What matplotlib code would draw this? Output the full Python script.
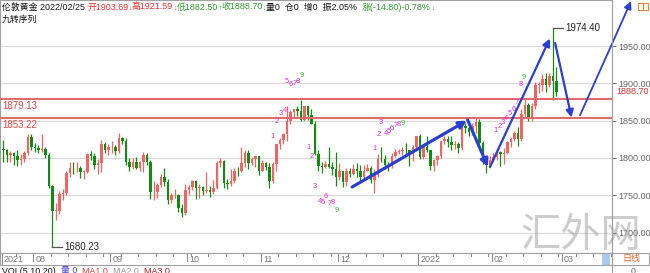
import matplotlib
matplotlib.use("Agg")
import matplotlib.pyplot as plt
import matplotlib.transforms as mtransforms
from matplotlib.patches import Rectangle
from matplotlib.lines import Line2D
import numpy as np
import pandas as pd

# ---------------- data ----------------
dates = pd.bdate_range("2021-07-20", "2022-02-25")

opens = [
    # Jul
    1812, 1811, 1804, 1806, 1802, 1797, 1799, 1806, 1828,
    # Aug
    1814, 1813, 1810, 1812, 1804, 1763, 1729, 1729, 1752, 1753, 1780, 1787, 1786, 1787, 1781, 1781, 1805, 1803, 1790, 1793, 1818, 1810,
    # Sep
    1814, 1814, 1809, 1827, 1823, 1794, 1788, 1794, 1787, 1794, 1804, 1794, 1754, 1754, 1764, 1774, 1768, 1743, 1750, 1750, 1733, 1726,
    # Oct
    1757, 1761, 1769, 1760, 1761, 1756, 1757, 1754, 1760, 1793, 1796, 1767, 1765, 1769, 1783, 1782, 1793, 1807, 1793, 1798, 1802,
    # Nov
    1783, 1793, 1788, 1769, 1792, 1818, 1824, 1832, 1849, 1862, 1865, 1863, 1851, 1869, 1858, 1846, 1805, 1789, 1788, 1792, 1788, 1785,
    # Dec
    1774, 1782, 1768, 1783, 1779, 1785, 1783, 1775, 1783, 1787, 1771, 1777, 1799, 1798, 1791, 1789, 1803, 1808, 1809, 1811, 1810, 1805, 1815,
    # Jan
    1829, 1801, 1814, 1810, 1789, 1797, 1802, 1822, 1826, 1821, 1817, 1819, 1813, 1843, 1840, 1835, 1843, 1848, 1820, 1797, 1791,
    # Feb
    1797, 1801, 1808, 1805, 1807, 1821, 1826, 1833, 1826, 1859, 1871, 1855, 1870, 1898, 1898, 1906, 1898, 1910, 1903.69,
]
highs = [
    1824, 1812, 1809, 1808, 1810, 1805, 1809, 1832, 1832,
    1820, 1817, 1832, 1815, 1806, 1764, 1740, 1755, 1758, 1782, 1795, 1794, 1795, 1789, 1784, 1806, 1809, 1806, 1798, 1824, 1821, 1819,
    1822, 1817, 1834, 1828, 1827, 1800, 1800, 1801, 1796, 1808, 1806, 1797, 1769, 1767, 1778, 1787, 1772, 1753, 1758, 1752, 1738, 1765,
    1764, 1770, 1770, 1765, 1763, 1781, 1762, 1770, 1796, 1800, 1797, 1772, 1785, 1786, 1788, 1814, 1810, 1810, 1801, 1803, 1802,
    1797, 1795, 1793, 1795, 1818, 1827, 1834, 1869, 1864, 1866, 1870, 1877, 1870, 1870, 1866, 1849, 1810, 1795, 1796, 1815, 1795, 1808,
    1793, 1783, 1786, 1786, 1792, 1793, 1790, 1791, 1792, 1789, 1785, 1805, 1815, 1804, 1795, 1806, 1812, 1812, 1814, 1820, 1811, 1817, 1830,
    1832, 1815, 1830, 1811, 1799, 1804, 1823, 1829, 1829, 1830, 1822, 1821, 1845, 1847, 1848, 1847, 1853, 1852, 1822, 1801, 1802,
    1807, 1812, 1809, 1813, 1822, 1828, 1836, 1842, 1865, 1879, 1873, 1873, 1902, 1902, 1913, 1914, 1914, 1974.40, 1921.59,
]
lows = [
    1795, 1795, 1794, 1791, 1789, 1790, 1795, 1804, 1810,
    1808, 1806, 1808, 1800, 1759, 1680.23, 1717, 1725, 1744, 1750, 1775, 1778, 1781, 1773, 1772, 1780, 1797, 1785, 1779, 1781, 1807, 1804,
    1807, 1804, 1806, 1818, 1790, 1782, 1785, 1785, 1782, 1781, 1790, 1745, 1743, 1746, 1761, 1763, 1738, 1740, 1746, 1727, 1721, 1723,
    1750, 1757, 1745, 1746, 1750, 1753, 1747, 1752, 1758, 1788, 1760, 1758, 1763, 1767, 1776, 1781, 1788, 1785, 1790, 1788, 1777,
    1782, 1784, 1759, 1767, 1782, 1812, 1818, 1823, 1846, 1855, 1856, 1850, 1849, 1851, 1845, 1804, 1782, 1780, 1786, 1786, 1777, 1763,
    1771, 1761, 1763, 1775, 1777, 1775, 1771, 1771, 1783, 1766, 1753, 1775, 1795, 1785, 1782, 1787, 1801, 1805, 1804, 1805, 1789, 1796, 1812,
    1798, 1799, 1808, 1784, 1782, 1790, 1800, 1818, 1814, 1811, 1812, 1806, 1811, 1834, 1830, 1831, 1834, 1816, 1792, 1780, 1786,
    1794, 1797, 1789, 1792, 1805, 1815, 1823, 1816, 1822, 1855, 1849, 1850, 1866, 1887, 1890, 1889, 1895, 1878, 1882.50,
]
closes = [
    1811, 1804, 1806, 1802, 1797, 1799, 1806, 1828, 1814,
    1813, 1810, 1812, 1804, 1763, 1729, 1729, 1752, 1753, 1780, 1787, 1786, 1787, 1781, 1781, 1805, 1803, 1790, 1793, 1818, 1810, 1814,
    1814, 1809, 1827, 1823, 1794, 1788, 1794, 1787, 1794, 1804, 1794, 1754, 1754, 1764, 1774, 1768, 1743, 1750, 1750, 1733, 1726, 1757,
    1761, 1769, 1760, 1761, 1756, 1757, 1754, 1760, 1793, 1796, 1767, 1765, 1769, 1783, 1782, 1793, 1807, 1793, 1798, 1802, 1783,
    1793, 1788, 1769, 1792, 1818, 1824, 1832, 1849, 1862, 1865, 1863, 1851, 1869, 1858, 1846, 1805, 1789, 1788, 1792, 1788, 1785, 1774,
    1782, 1768, 1783, 1779, 1785, 1783, 1775, 1783, 1787, 1771, 1777, 1799, 1798, 1791, 1789, 1803, 1808, 1809, 1811, 1810, 1805, 1815, 1829,
    1801, 1814, 1810, 1789, 1797, 1802, 1822, 1826, 1821, 1817, 1819, 1813, 1843, 1840, 1835, 1843, 1848, 1820, 1797, 1791, 1797,
    1801, 1808, 1805, 1807, 1821, 1826, 1833, 1826, 1859, 1871, 1855, 1870, 1898, 1898, 1906, 1898, 1910, 1903, 1888.70,
]
assert len(opens) == len(highs) == len(lows) == len(closes) == len(dates)

support_levels = [1879.13, 1853.22]
last_close = 1888.70
y_ticks = [1700, 1750, 1800, 1850, 1900, 1950]

month_labels = ["2021", "08", "09", "10", "11", "12", "2022", "02", "03"]
month_starts = ["2021-07-20", "2021-08-02", "2021-09-01", "2021-10-01", "2021-11-01",
                "2021-12-01", "2022-01-03", "2022-02-01", "2022-03-01"]

# TD sequential (九转序列) counts: bar position, price, label
td_pos = [77, 78.1, 79.3, 80.4, 81, 82.1, 83.3, 84.1, 85.3,
          87.1, 88.2, 89, 90.4, 91.3, 92, 93.1, 94, 95.2,
          106.1, 107.1, 107.9, 109.3, 110.1, 111, 112, 112.8, 114,
          140.7, 141.7, 142.7, 143.7, 144.7, 145.7, 146.7, 147.9, 148.7]
td_price = [1829, 1849, 1860, 1863, 1903, 1899, 1900, 1903, 1911,
            1814, 1802, 1762, 1742, 1740, 1748, 1739, 1740, 1729,
            1812, 1832, 1847, 1833, 1836, 1839, 1844, 1845, 1846,
            1837, 1842, 1848, 1853, 1859, 1865, 1874, 1898, 1908]
td_label = ["1", "2", "3", "4", "5", "6", "7", "8", "9"] * 4

# hand-drawn wave arrows: (start bar, start price) -> (end bar, end price)
arrow_start = [(99.6, 1761), (132.6, 1851), (139.0, 1788), (157.6, 1954), (164.7, 1857)]
arrow_end = [(132.4, 1850), (138.4, 1788), (156.1, 1960), (162.3, 1854), (179.3, 2010)]
arrow_width = [2.3, 2.2, 1.6, 1.6, 1.3]

header = [("伦敦黄金 2022/02/25 ", "#111111", 6.4),
          ("开1903.69", "#f03030", 6.4), ("↓", "#f03030", 4.8),
          ("高1921.59", "#f03030", 6.4), ("↓", "#f03030", 4.8),
          ("低1882.50", "#2e9e2e", 6.4), ("↑", "#2e9e2e", 4.8),
          ("收1888.70", "#2e9e2e", 6.4), ("↓", "#2e9e2e", 4.8),
          ("量0  仓0  增0  振2.05%  ", "#111111", 6.4),
          ("涨(-14.80)-0.78%", "#2e9e2e", 6.4), ("↓", "#2e9e2e", 4.8)]
vol_line = [("VOL(5,10,20)  ", "#111111", 6.4), ("量 0  ", "#4a4ad0", 6.4),
            ("MA1 0  ", "#e04040", 6.4), ("MA2 0  ", "#999999", 6.4), ("MA3 0", "#a02020", 6.4)]

# ---------------- layout ----------------
W, H = 650, 273
FAM = ["Liberation Sans", "Noto Sans CJK SC"]
fig = plt.figure(figsize=(6.5, 2.73), dpi=100)
fig.patch.set_facecolor("white")


def fx(px):
    return px / W


def fy(py):
    return 1 - py / H


PRICE_BOT = 253
AX_RIGHT = 612
ax = fig.add_axes([0, fy(PRICE_BOT), fx(AX_RIGHT), PRICE_BOT / H])
ax.set_facecolor("white")
ax.set_xlim(-1, (AX_RIGHT - 3.5) / 3.5)
ax.set_ylim(1900 - (PRICE_BOT - 83.3) / 0.746, 1900 + 83.3 / 0.746)

for s in ax.spines.values():
    s.set_color("#a0a0a0")
    s.set_linewidth(0.8)

ax.set_xticks([])
ax.yaxis.tick_right()
ax.set_yticks(y_ticks)
ax.set_yticklabels([f"{v:.2f}" for v in y_ticks], family=FAM)
ax.tick_params(axis="y", labelsize=6.5, colors="#666666", length=3, pad=1.2, width=0.7)
ax.grid(axis="y", color="#dadada", linewidth=0.9)
ax.set_axisbelow(True)

# candles
x = np.arange(len(closes))
o = np.array(opens, float)
h = np.array(highs, float)
l = np.array(lows, float)
c = np.array(closes, float)
up = c >= o
col = np.where(up, "#f06464", "#138a13")
ax.vlines(x, l, h, colors=col, linewidth=0.9, zorder=3)
body = np.maximum(np.abs(c - o), 0.8)
ax.bar(x, body, bottom=np.minimum(o, c), width=0.7, color=col, linewidth=0, zorder=4)

# support lines
blend = mtransforms.blended_transform_factory(ax.transAxes, ax.transData)
for lv in support_levels:
    ax.axhline(lv, color="#e36a6a", linewidth=1.5, zorder=5)
    ax.text(0.004, lv, f"{lv:.2f}", transform=mtransforms.offset_copy(blend, fig=fig, y=-1.5, units="points"),
            color="#e04848", fontsize=7, family=FAM, va="top", ha="left", zorder=6)

# last price label on axis
ax.text(1.0065, last_close, f"{last_close:.2f}", transform=blend, color="#e03030",
        fontsize=6.5, family=FAM, va="center", ha="left", clip_on=False)

# max / min markers
imax = int(np.argmax(h))
imin = int(np.argmin(l))
ax.plot([imax, imax + 2.9], [h[imax], h[imax]], color="#555555", lw=0.9, zorder=6)
ax.text(imax + 3.4, h[imax], f"{h[imax]:.2f}", color="#222222", fontsize=7, family=FAM,
        va="center", ha="left", zorder=6)
ax.plot([imin, imin + 2.7], [l[imin], l[imin]], color="#555555", lw=0.9, zorder=6)
ax.text(imin + 3.4, l[imin], f"{l[imin]:.2f}", color="#222222", fontsize=7, family=FAM,
        va="center", ha="left", zorder=6)

# TD numbers
for px_, py_, lab in zip(td_pos, td_price, td_label):
    ax.text(px_, py_, lab, color=("#33c433" if lab == "9" else "#e030e0"), fontsize=5.5,
            family=FAM, ha="center", va="center", zorder=7)

# arrows
for (x0, y0), (x1, y1), lw in zip(arrow_start, arrow_end, arrow_width):
    ax.annotate("", xy=(x1, y1), xytext=(x0, y0), annotation_clip=False, zorder=8,
                arrowprops=dict(arrowstyle="-|>", color="#2b3fcf", lw=lw,
                                mutation_scale=11, shrinkA=0, shrinkB=0, clip_on=False))

# ---------------- date strip ----------------
STRIP_TOP, STRIP_BOT = 253, 265
ax2 = fig.add_axes([0, fy(STRIP_BOT), fx(AX_RIGHT), (STRIP_BOT - STRIP_TOP) / H])
ax2.set_xlim(ax.get_xlim())
ax2.set_ylim(0, 1)
ax2.set_xticks([])
ax2.set_yticks([])
for s in ax2.spines.values():
    s.set_color("#a0a0a0")
    s.set_linewidth(0.8)
cal = pd.bdate_range("2021-07-20", "2022-03-31")
cal_index = {d: i for i, d in enumerate(cal)}
for d in cal:
    if d.weekday() == 0:
        ax2.plot([cal_index[d] - 0.5] * 2, [1, 0.72], color="#888888", lw=0.7)
for lab, ds in zip(month_labels, month_starts):
    i = cal_index[pd.Timestamp(ds)]
    ax2.plot([i - 0.5] * 2, [1, 0.35 if lab not in ("2021", "2022") else 0.0], color="#888888", lw=0.7)
    ax2.text(i + 0.1, 0.42, lab, color="#777777", fontsize=6.5, family=FAM, va="center", ha="left")
# highlighted cursor cell
ax2.axvspan((602 - 3.5) / 3.5, (610 - 3.5) / 3.5, color="#a9c9ef", lw=0)

# right strip box with 日线
fig.add_artist(Rectangle((fx(AX_RIGHT), fy(STRIP_BOT)), fx(W - AX_RIGHT - 1), (STRIP_BOT - STRIP_TOP) / H,
                         transform=fig.transFigure, fill=False, edgecolor="#a0a0a0", lw=0.8))
fig.text(fx(622), fy(259), "日线", color="#e0662a", fontsize=6.5, family=FAM, va="center", ha="left")

# long right divider
fig.add_artist(Line2D([fx(AX_RIGHT), fx(AX_RIGHT)], [0, 1], transform=fig.transFigure,
                      color="#a0a0a0", lw=0.8))

# ---------------- chained texts ----------------
renderer = fig.canvas.get_renderer()


def chain(segments, x0, y0, va="center"):
    xx = x0
    for txt, colr, fs in segments:
        yy = y0 + (1.5 if fs < 6 and va == "center" else 0)
        t = fig.text(fx(xx), fy(yy), txt, color=colr, fontsize=fs, family=FAM, va=va, ha="left", zorder=10)
        bb = t.get_window_extent(renderer=renderer)
        xx += bb.width


chain(header, 2, 7)
fig.text(fx(2), fy(19), "九转序列", color="#111111", fontsize=6.4, family=FAM, va="center", ha="left")
chain(vol_line, 2, 266.5, va="top")
fig.text(fx(631), fy(266.5), "0", color="#666666", fontsize=6.4, family=FAM, va="top", ha="left")

# top right icon
fig.add_artist(Rectangle((fx(638), fy(10)), fx(10), 7 / H, transform=fig.transFigure,
                         fill=False, edgecolor="#e8803a", lw=0.8))
fig.add_artist(Line2D([fx(643), fx(643)], [fy(10), fy(3)], transform=fig.transFigure, color="#e8803a", lw=0.8))

# watermark
fig.text(fx(581), fy(236), "汇外网", color="#9a9a9a", alpha=0.5, fontsize=29,
         family=["Noto Sans CJK SC"], fontweight="light", ha="center", va="center", zorder=20)

fig.savefig("out.png", dpi=100, facecolor="white")
